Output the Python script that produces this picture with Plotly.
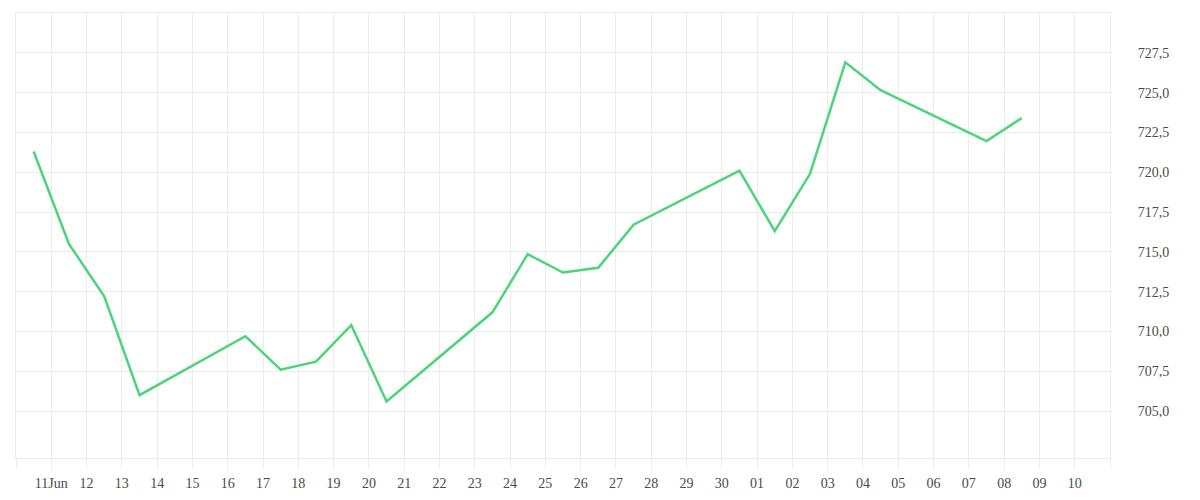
import plotly.graph_objects as go
import pandas as pd

# Data (daily values, plotted at midday)
dates = [
    "2025-06-10", "2025-06-11", "2025-06-12", "2025-06-13",
    "2025-06-16", "2025-06-17", "2025-06-18", "2025-06-19", "2025-06-20",
    "2025-06-23", "2025-06-24", "2025-06-25", "2025-06-26", "2025-06-27",
    "2025-06-30", "2025-07-01", "2025-07-02", "2025-07-03", "2025-07-04",
    "2025-07-07", "2025-07-08",
]
values = [
    721.3, 715.5, 712.2, 706.0,
    709.7, 707.6, 708.1, 710.4, 705.6,
    711.2, 714.85, 713.7, 714.0, 716.7,
    720.1, 716.3, 719.9, 726.9, 725.15,
    721.95, 723.4,
]
y_ticks = [705.0, 707.5, 710.0, 712.5, 715.0, 717.5, 720.0, 722.5, 725.0, 727.5]
x_tick_days = pd.date_range("2025-06-10", "2025-07-11", freq="D")

x = pd.to_datetime(dates) + pd.Timedelta(hours=12)

def day_label(d):
    if d == pd.Timestamp("2025-06-10") or d == pd.Timestamp("2025-07-11"):
        return ""
    if d == pd.Timestamp("2025-06-11"):
        return "11Jun"
    return d.strftime("%d")

x_tick_text = [day_label(d) for d in x_tick_days]

GRID = "#ececec"
FONT = dict(family="Liberation Serif", size=14, color="#4a4a4a")

fig = go.Figure()
fig.add_trace(go.Scatter(
    x=x, y=values, mode="lines",
    line=dict(color="#4cd47b", width=2.5),
    hoverinfo="x+y",
))

fig.update_layout(
    width=1200, height=500,
    margin=dict(l=8, r=98, t=5, b=50),
    paper_bgcolor="white", plot_bgcolor="white",
    showlegend=False,
    separators=", ",
    font=FONT,
)
fig.update_xaxes(
    type="date",
    range=[x_tick_days[0], x_tick_days[-1]],
    tickmode="array",
    tickvals=list(x_tick_days),
    ticktext=x_tick_text,
    showgrid=True, gridcolor=GRID, gridwidth=1,
    showline=True, linecolor=GRID, linewidth=1, mirror=True,
    ticks="outside", ticklen=10, tickcolor=GRID, tickwidth=1,
    ticklabelstandoff=2,
    tickfont=FONT,
    zeroline=False,
)
fig.update_yaxes(
    side="right",
    range=[702.05, 730.0],
    tickmode="array",
    tickvals=y_ticks,
    tickformat=".1f",
    showgrid=True, gridcolor=GRID, gridwidth=1,
    showline=True, linecolor=GRID, linewidth=1, mirror=True,
    ticks="",
    ticklabelstandoff=24,
    tickfont=FONT,
    zeroline=False,
)

fig.write_html("out.html")
